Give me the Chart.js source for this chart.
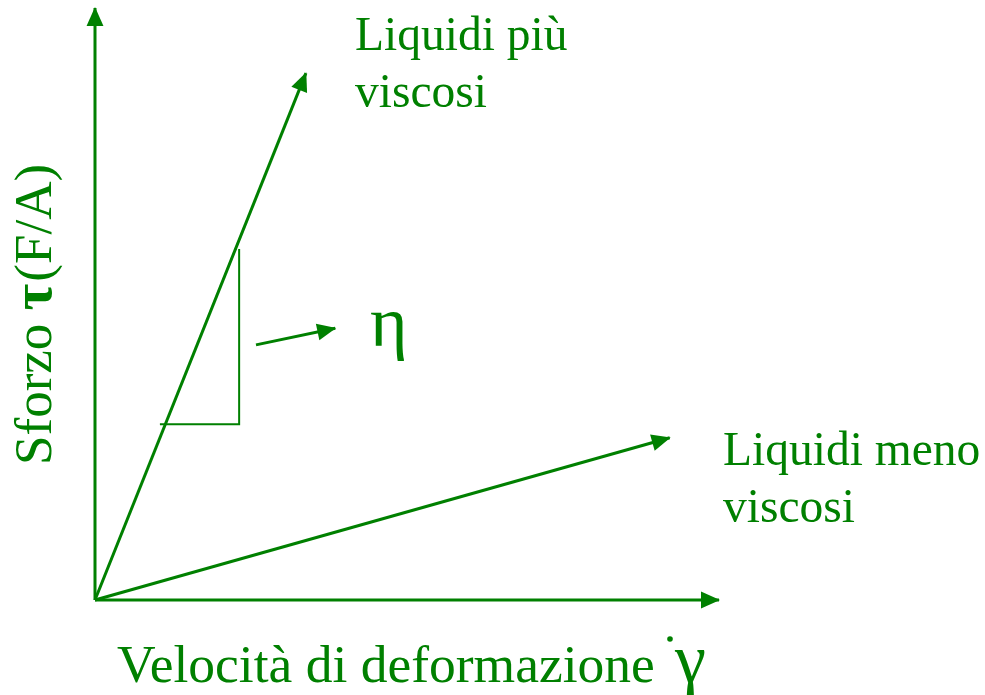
<!DOCTYPE html>
<html>
<head>
<meta charset="utf-8">
<script src="https://cdn.jsdelivr.net/npm/chart.js@4.4.0/dist/chart.umd.min.js"></script>
<style>
    html, body { margin: 0; padding: 0; background: #fff; }
    #wrap { width: 985px; height: 695px; position: relative; }
</style>
</head>
<body>
<div id="wrap"><canvas id="viscChart"></canvas></div>
<script>
// values in plot units (0..100 on both axes)
var axisXx = [0, 100];
var axisXy = [0, 0];
var axisYx = [0, 0];
var axisYy = [0, 100];
var viscousX = [0, 33.8];   // liquidi più viscosi
var viscousY = [0, 89.0];
var fluidX = [0, 92.1];     // liquidi meno viscosi
var fluidY = [0, 27.4];
var slopeX = [10.4, 23.1, 23.1];
var slopeY = [29.7, 29.7, 59.3];
var etaArrowX = [25.8, 38.5];
var etaArrowY = [43.1, 45.9];

var green = '#008000';
var serif = '"Liberation Serif", "Times New Roman", serif';

function pts(xs, ys) {
    return xs.map(function (v, i) { return { x: v, y: ys[i] }; });
}

function seg(xs, ys, width, arrow) {
    return {
        data: pts(xs, ys),
        showLine: true,
        borderColor: green,
        borderWidth: width,
        pointRadius: 0,
        fill: false,
        clip: false,
        arrow: arrow
    };
}

var arrowPlugin = {
    id: 'arrows',
    afterDatasetsDraw: function (chart) {
        var ctx = chart.ctx;
        chart.data.datasets.forEach(function (ds, i) {
            if (!ds.arrow) return;
            var meta = chart.getDatasetMeta(i);
            var n = meta.data.length;
            var a = meta.data[n - 2], b = meta.data[n - 1];
            var ang = Math.atan2(b.y - a.y, b.x - a.x);
            var len = ds.arrow, half = ds.arrow * 0.47;
            ctx.save();
            ctx.translate(b.x, b.y);
            ctx.rotate(ang);
            ctx.fillStyle = green;
            ctx.beginPath();
            ctx.moveTo(1, 0);
            ctx.lineTo(-len, -half);
            ctx.lineTo(-len, half);
            ctx.closePath();
            ctx.fill();
            ctx.restore();
        });
    }
};

var labelPlugin = {
    id: 'labels',
    afterDraw: function (chart) {
        var ctx = chart.ctx;
        ctx.save();
        ctx.fillStyle = green;
        ctx.textBaseline = 'alphabetic';
        ctx.textAlign = 'left';
        ctx.font = '47.5px ' + serif;
        ctx.fillText('Liquidi più', 355, 50);
        ctx.fillText('viscosi', 355, 107);
        ctx.fillText('Liquidi meno', 723, 465);
        ctx.fillText('viscosi', 723, 522);

        ctx.font = '53.5px ' + serif;
        ctx.fillText('Velocità di deformazione', 117, 682);

        ctx.font = '70px ' + serif;
        ctx.fillText('γ', 675, 682);
        ctx.beginPath();
        ctx.arc(670, 639, 2.8, 0, Math.PI * 2);
        ctx.fill();

        ctx.font = '72px ' + serif;
        ctx.fillText('η', 370, 346);

        // y axis title, rotated
        ctx.translate(51, 465);
        ctx.rotate(-Math.PI / 2);
        ctx.font = '53px ' + serif;
        ctx.fillText('Sforzo ', 0, 0);
        var w = ctx.measureText('Sforzo ').width;
        ctx.font = 'bold 58px ' + serif;
        ctx.fillText('τ', w, 0);
        var w2 = ctx.measureText('τ').width;
        ctx.font = '53px ' + serif;
        ctx.fillText('(F/A)', w + w2 + 2, 0);
        ctx.restore();
    }
};

new Chart(document.getElementById('viscChart'), {
    type: 'scatter',
    data: {
        datasets: [
            seg(axisXx, axisXy, 3, 18),
            seg(axisYx, axisYy, 3, 18),
            seg(viscousX, viscousY, 3, 18),
            seg(fluidX, fluidY, 3, 18),
            seg(slopeX, slopeY, 2, 0),
            seg(etaArrowX, etaArrowY, 3, 18)
        ]
    },
    options: {
        responsive: true,
        maintainAspectRatio: false,
        animation: false,
        layout: { padding: { left: 95, right: 266, top: 8, bottom: 95 } },
        plugins: {
            legend: { display: false },
            tooltip: { enabled: false }
        },
        scales: {
            x: { type: 'linear', min: 0, max: 100, display: false },
            y: { type: 'linear', min: 0, max: 100, display: false }
        }
    },
    plugins: [arrowPlugin, labelPlugin]
});
</script>
</body>
</html>
